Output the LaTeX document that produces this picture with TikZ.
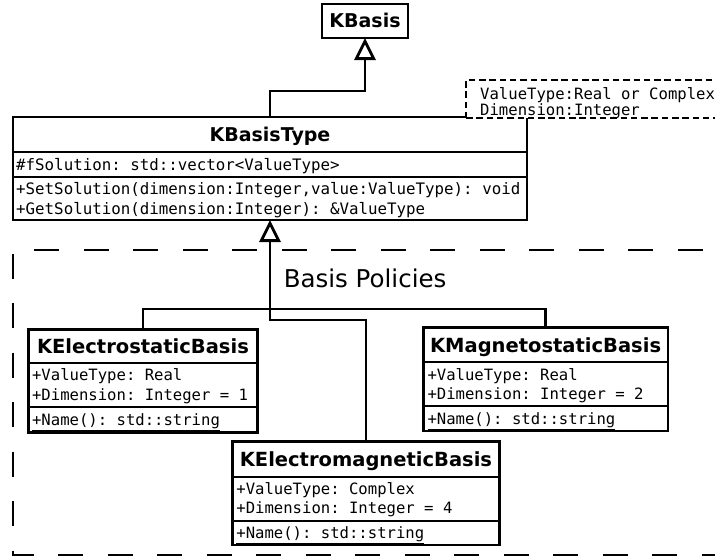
\documentclass[tikz,border=0pt]{standalone}
\usepackage{fontspec}
\setmainfont{DejaVu Sans}
\newfontfamily\umlmono{DejaVu Sans Mono}
\usetikzlibrary{arrows.meta,fit,calc}

\tikzset{
  classbox/.style={draw, line width=2.9pt, fill=white, inner sep=0pt, outer sep=0pt},
  compartment/.style={line width=2.3pt},
  classname/.style={font=\fontsize{19.5}{23}\selectfont\bfseries, anchor=base, inner sep=0pt},
  member/.style={font=\umlmono\fontsize{15.8}{19}\selectfont\frenchspacing, anchor=base west, inner sep=0pt},
  membersm/.style={font=\umlmono\fontsize{15.6}{19}\selectfont\frenchspacing, anchor=base west, inner sep=0pt},
  link/.style={line width=2.8pt},
  generalizes/.style={link, -{Triangle[open, fill=white, length=22pt, width=21pt]}},
  package/.style={line width=2.8pt, dash pattern=on 25pt off 24.5pt, dash phase=12pt},
  tparams/.style={draw, line width=2pt, dash pattern=on 6.5pt off 3.8pt, fill=white, inner sep=0pt, outer sep=0pt}
}

\begin{document}
\frenchspacing
\begin{tikzpicture}[x=1pt, y=-1pt]
\useasboundingbox (0,0) rectangle (715,558);
\clip (0,0) rectangle (715,558);

% package frame of the policy classes (right side runs off the page)
\draw[package] (740,250) -- (13,250) -- (13,555) -- (740,555);
\node[anchor=base west, font=\fontsize{24.5}{29}\selectfont, inner sep=0pt] (policies) at (283.6,287.2) {Basis Policies};

% KBasis
\node[classbox, fit={(322,4) (408,38)}] (kbasis) {};
\node[classname, font=\fontsize{19}{23}\selectfont\bfseries] (kbasis-name) at (kbasis.center |- 0,27.9) {KBasis};

% KBasisType
\node[classbox, fit={(13,117) (527,220)}] (kbt) {};
\draw[compartment] (13,152) -- (527,152);
\draw[compartment] (13,177) -- (527,177);
\node[classname, font=\fontsize{19}{23}\selectfont\bfseries] (kbt-name) at (kbt.center |- 0,141.4) {KBasisType};
\node[member] (kbt-attr) at (16,170) {\#fSolution: std::vector<ValueType>};
\node[member] (kbt-op1) at (16,194.5) {+SetSolution(dimension:Integer,value:ValueType): void};
\node[member] (kbt-op2) at (16,214) {+GetSolution(dimension:Integer): \&ValueType};

% template parameters
\node[tparams, fit={(466,80) (740,118)}] (tpl) {};
\node[membersm] (tpl-1) at (480,99) {ValueType:Real or Complex};
\node[membersm] (tpl-2) at (480,115) {Dimension:Integer};

% KElectrostaticBasis
\node[classbox, fit={(28.3,329.3) (257.6,432.3)}] (elstat) {};
\draw[compartment] (28.3,362.7) -- (257.6,362.7);
\draw[compartment] (28.3,407.3) -- (257.6,407.3);
\node[classname] (elstat-name) at (elstat.center |- 0,353.1) {KElectrostaticBasis};
\node[membersm] (elstat-a1) at (31.9,380.7) {+ValueType: Real};
\node[membersm] (elstat-a2) at (31.9,400.1) {+Dimension: Integer = 1};
\node[membersm] (elstat-op) at (31.9,425) {\underline{+Name(): std::string}};

% KMagnetostaticBasis
\node[classbox, fit={(423.2,327.7) (668,431)}] (magstat) {};
\draw[compartment] (423.2,361.7) -- (668,361.7);
\draw[compartment] (423.2,405.7) -- (668,405.7);
\node[classname] (magstat-name) at (magstat.center |- 0,352) {KMagnetostaticBasis};
\node[membersm] (magstat-a1) at (427.3,380) {+ValueType: Real};
\node[membersm] (magstat-a2) at (427.3,399.4) {+Dimension: Integer = 2};
\node[membersm] (magstat-op) at (427.3,424) {\underline{+Name(): std::string}};

% KElectromagneticBasis
\node[classbox, fit={(232.6,441.7) (499.3,545)}] (emag) {};
\draw[compartment] (232.6,476.7) -- (499.3,476.7);
\draw[compartment] (232.6,520.7) -- (499.3,520.7);
\node[classname] (emag-name) at (emag.center |- 0,466.2) {KElectromagneticBasis};
\node[membersm] (emag-a1) at (236.2,494) {+ValueType: Complex};
\node[membersm] (emag-a2) at (236.2,513.4) {+Dimension: Integer = 4};
\node[membersm] (emag-op) at (236.2,538) {\underline{+Name(): std::string}};

% generalizations
\draw[generalizes] (kbt.north) -- ++(0,-26) -| (kbasis.south);
\coordinate (hub) at ($(kbt.south)+(0,89)$);
\coordinate (elbow) at ($(kbt.south)+(0,100)$);
\draw[link] (elstat.north) |- (hub);
\draw[link] (magstat.north) |- (hub);
\draw[generalizes] (emag.north) |- (elbow) -- (kbt.south);
\end{tikzpicture}
\end{document}
